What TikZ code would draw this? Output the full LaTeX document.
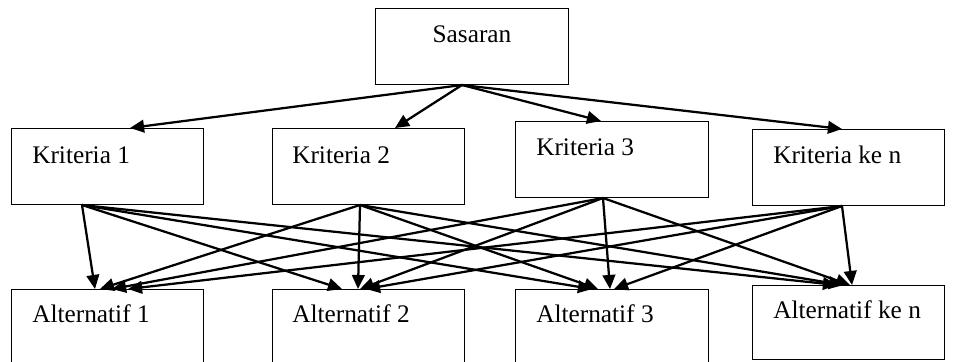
\documentclass[tikz,border=0pt]{standalone}
\usepackage{fontspec}
\setmainfont{Liberation Serif}
\usetikzlibrary{arrows.meta}
\definecolor{ink}{HTML}{000000}
\definecolor{paper}{HTML}{FFFFFF}

\tikzset{
  box/.style={draw=ink, line width=0.7pt, fill=paper, minimum width=4.8cm,
    minimum height=1.9cm, inner sep=0pt, anchor=north west},
  boxtext/.style={anchor=base west, inner sep=0pt, text=ink,
    font=\fontsize{18}{22}\selectfont},
  link/.style={draw=ink, line width=1.6pt, -{Triangle[length=10pt,width=9pt]}},
}

\begin{document}
\begin{tikzpicture}[x=0.025cm, y=-0.025cm]
  % Page
  \clip (0,0) rectangle (958,361);
  \fill[paper] (0,0) rectangle (958,361);
  % Goal
  \node[box, minimum width=4.825cm] (goal) at (375,8) {};
  \node[boxtext, anchor=base] (goaltext) at ([shift={(0,35)}]goal.north) {Sasaran};
  % Criteria
  \node[box] (k1) at (11,128) {};
  \node[box] (k2) at (272,128) {};
  \node[box, minimum width=4.825cm] (k3) at (515,121) {};
  \node[box] (kn) at (752,129) {};
  \node[boxtext] (k1text) at ([shift={(21,35)}]k1.north west) {Kriteria 1};
  \node[boxtext] (k2text) at ([shift={(20,35)}]k2.north west) {Kriteria 2};
  \node[boxtext] (k3text) at ([shift={(21,34)}]k3.north west) {Kriteria 3};
  \node[boxtext] (kntext) at ([shift={(21,34)}]kn.north west) {Kriteria ke n};
  % Alternatives
  \node[box] (a1) at (11,289) {};
  \node[box] (a2) at (272,289) {};
  \node[box, minimum width=4.825cm] (a3) at (515,289) {};
  \node[box, minimum height=1.85cm] (an) at (752,285) {};
  \node[boxtext] (a1text) at ([shift={(21,33)}]a1.north west) {Alternatif 1};
  \node[boxtext] (a2text) at ([shift={(20,33)}]a2.north west) {Alternatif 2};
  \node[boxtext] (a3text) at ([shift={(21,33)}]a3.north west) {Alternatif 3};
  \node[boxtext] (antext) at ([shift={(21,33)}]an.north west) {Alternatif ke n};
  % Goal to criteria
  \draw[link] ([shift={(87,0)}]goal.south west) -- ([shift={(119,0)}]k1.north west);
  \draw[link] ([shift={(87,0)}]goal.south west) -- ([shift={(123,0)}]k2.north west);
  \draw[link] ([shift={(87,0)}]goal.south west) -- ([shift={(86,0)}]k3.north west);
  \draw[link] ([shift={(87,0)}]goal.south west) -- ([shift={(90,0)}]kn.north west);
  % Criteria to alternatives
  \foreach \src/\sdx/\dst/\tdx in {
      k1/71/a1/84, k1/71/a2/70, k1/71/a3/77, k1/71/an/85,
      k2/88/a1/89, k2/88/a2/86, k2/88/a3/83, k2/88/an/91,
      k3/88/a1/101, k3/88/a2/88, k3/88/a3/95, k3/88/an/98,
      kn/90/a1/117, kn/90/a2/94, kn/90/a3/99, kn/90/an/100}
    \draw[link] ([shift={(\sdx,0)}]\src.south west) -- ([shift={(\tdx,0)}]\dst.north west);
\end{tikzpicture}
\end{document}
